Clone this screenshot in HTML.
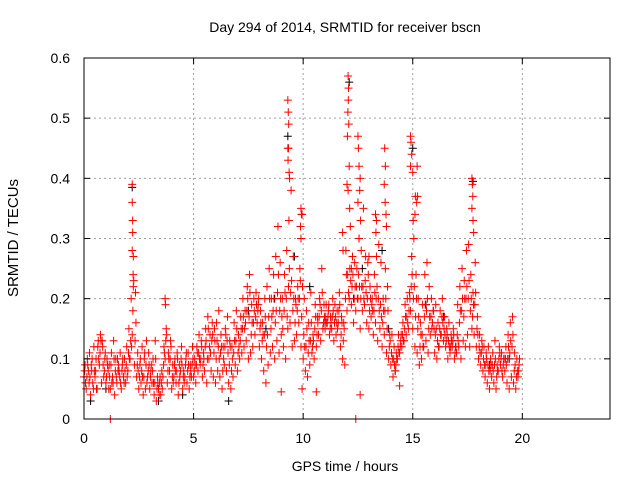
<!DOCTYPE html>
<html><head><meta charset="utf-8"><style>
body{margin:0;background:#fff;}
svg{display:block;font-family:"Liberation Sans",sans-serif;}
</style></head><body>
<svg id="chart" width="640" height="480">
<rect x="0" y="0" width="640" height="480" fill="#fff"/>
<g id="grid"></g>
<g id="pts"></g>
<rect x="84" y="58" width="526" height="361" fill="none" stroke="#000" stroke-width="1"/>
<g id="ticks"></g>
<text x="345" y="32" font-size="14" text-anchor="middle">Day 294 of 2014, SRMTID for receiver bscn</text>
<text x="345" y="471" font-size="14" text-anchor="middle">GPS time / hours</text>
<text x="18" y="238" font-size="15" text-anchor="middle" transform="rotate(-90 18 238)">SRMTID / TECUs</text>
</svg>
<script>
const xTicks=[0,5,10,15,20];
const yTicks=[0,0.1,0.2,0.3,0.4,0.5,0.6];
const yTickLabels=["0","0.1","0.2","0.3","0.4","0.5","0.6"];
const redT=[0.0,0.1,0.2,0.3,0.4,0.5,0.6,0.7,0.8,0.9,1.0,1.1,1.2,1.3,1.4,1.5,1.6,1.7,1.8,1.9,2.0,2.1,2.2,2.3,2.4,2.5,2.6,2.7,2.8,2.9,3.0,3.1,3.2,3.3,3.4,3.5,3.6,3.7,3.8,3.9,4.0,4.1,4.2,4.3,4.4,4.5,4.6,4.7,4.8,4.9,5.0,5.1,5.2,5.3,5.4,5.5,5.6,5.7,5.8,5.9,6.0,6.1,6.2,6.3,6.4,6.5,6.6,6.7,6.8,6.9,7.0,7.1,7.2,7.3,7.4,7.5,7.6,7.7,7.8,7.9,8.0,8.1,8.2,8.3,8.4,8.5,8.6,8.7,8.8,8.9,9.0,9.1,9.2,9.3,9.4,9.5,9.6,9.7,9.8,9.9,10.0,10.1,10.2,10.3,10.4,10.5,10.6,10.7,10.8,10.9,11.0,11.1,11.2,11.3,11.4,11.5,11.6,11.7,11.8,11.9,12.0,12.1,12.2,12.3,12.4,12.5,12.6,12.7,12.8,12.9,13.0,13.1,13.2,13.3,13.4,13.5,13.6,13.7,13.8,13.9,14.0,14.1,14.2,14.3,14.4,14.5,14.6,14.7,14.8,14.9,15.0,15.1,15.2,15.3,15.4,15.5,15.6,15.7,15.8,15.9,16.0,16.1,16.2,16.3,16.4,16.5,16.6,16.7,16.8,16.9,17.0,17.1,17.2,17.3,17.4,17.5,17.6,17.7,17.8,17.9,18.0,18.1,18.2,18.3,18.4,18.5,18.6,18.7,18.8,18.9,19.0,19.1,19.2,19.3,19.4,19.5,19.6,19.7,19.8];
const redA=[.07,.05,.08,.04,.06,.07,.05,.09,.06,.07,.06,.08,.05,.07,.04,.06,.08,.05,.07,.06,.08,.1,.14,.09,.07,.05,.06,.04,.05,.07,.05,.06,.04,.03,.05,.04,.07,.1,.06,.08,.05,.07,.06,.04,.08,.05,.07,.06,.05,.07,.07,.06,.08,.09,.07,.08,.06,.1,.08,.07,.06,.08,.07,.05,.09,.08,.06,.05,.07,.09,.08,.1,.11,.12,.13,.1,.11,.12,.14,.16,.12,.1,.08,.06,.09,.11,.12,.1,.13,.11,.14,.12,.1,.15,.16,.12,.13,.14,.16,.12,.1,.08,.07,.09,.11,.1,.12,.14,.13,.15,.15,.16,.14,.15,.13,.14,.16,.12,.1,.09,.18,.2,.19,.16,.18,.2,.15,.18,.19,.16,.15,.17,.14,.16,.13,.15,.12,.14,.11,.1,.09,.07,.08,.1,.11,.12,.13,.14,.15,.18,.15,.12,.11,.09,.1,.12,.13,.11,.14,.16,.11,.1,.12,.14,.13,.12,.1,.11,.12,.1,.11,.12,.1,.13,.12,.14,.12,.15,.14,.12,.1,.09,.08,.07,.06,.05,.07,.06,.05,.08,.09,.07,.08,.06,.05,.07,.06,.05,.07];
const redB=[.09,.1,.11,.08,.12,.1,.13,.14,.12,.1,.1,.09,.11,.13,.1,.08,.11,.09,.1,.12,.15,.2,.27,.21,.11,.09,.12,.1,.13,.11,.08,.1,.13,.07,.06,.08,.12,.15,.11,.13,.09,.1,.11,.09,.12,.08,.1,.11,.09,.12,.1,.12,.14,.13,.11,.15,.17,.14,.16,.15,.16,.18,.14,.12,.15,.17,.13,.12,.16,.18,.14,.17,.2,.18,.22,.24,.19,.2,.21,.19,.18,.16,.2,.22,.25,.2,.24,.27,.32,.26,.2,.24,.28,.33,.38,.27,.2,.22,.25,.34,.2,.18,.16,.21,.14,.19,.17,.2,.25,.19,.19,.18,.17,.2,.19,.18,.21,.17,.16,.28,.38,.32,.27,.26,.25,.3,.28,.35,.27,.26,.22,.2,.24,.27,.29,.26,.2,.25,.22,.14,.14,.12,.11,.14,.13,.16,.19,.2,.21,.27,.3,.24,.2,.16,.19,.24,.26,.22,.2,.18,.19,.16,.18,.2,.17,.15,.16,.14,.15,.12,.19,.22,.25,.23,.28,.29,.24,.21,.26,.17,.14,.13,.12,.11,.12,.1,.11,.13,.09,.12,.11,.1,.12,.14,.16,.17,.11,.1,.09];
const redC=[.08,.07,.06,.09,.05,.08,.12,.11,.13,.08,.07,.05,.09,.06,.08,.1,.07,.08,.06,.09,.11,.13,.18,.13,.09,.07,.08,.07,.09,.08,.07,.08,.06,.05,.04,.06,.09,.13,.08,.1,.07,.09,.08,.06,.1,.07,.09,.08,.07,.09,.08,.09,.11,.1,.09,.12,.1,.12,.13,.11,.1,.12,.11,.08,.12,.13,.09,.08,.11,.13,.11,.13,.15,.15,.18,.17,.14,.16,.17,.18,.15,.13,.14,.12,.17,.15,.18,.16,.21,.18,.17,.18,.2,.22,.21,.18,.16,.18,.2,.17,.14,.12,.11,.13,.12,.15,.14,.17,.18,.16,.17,.17,.15,.17,.16,.16,.18,.14,.13,.2,.24,.25,.22,.2,.22,.24,.2,.22,.23,.2,.18,.19,.18,.2,.2,.19,.16,.18,.15,.12,.11,.1,.09,.12,.12,.14,.15,.17,.18,.22,.2,.17,.15,.12,.14,.17,.18,.15,.17,.18,.14,.13,.15,.17,.15,.13,.13,.12,.13,.11,.14,.16,.18,.17,.2,.2,.18,.17,.19,.15,.12,.11,.1,.09,.09,.08,.09,.09,.07,.1,.1,.09,.1,.1,.11,.12,.08,.07,.08];
const redD=[.06,.09,.07,.1,.08,.05,.1,.13,.09,.11,.09,.07,.06,.1,.07,.09,.06,.1,.08,.07,.1,.12,.23,.16,.08,.1,.07,.11,.06,.09,.09,.06,.1,.06,.07,.05,.11,.14,.1,.12,.06,.08,.1,.07,.09,.06,.11,.09,.08,.1,.09,.11,.1,.12,.1,.13,.15,.11,.14,.13,.13,.1,.12,.1,.14,.11,.12,.1,.13,.15,.12,.15,.17,.16,.2,.21,.16,.18,.19,.2,.16,.14,.17,.14,.2,.17,.2,.18,.24,.2,.15,.21,.17,.25,.23,.2,.19,.2,.23,.22,.12,.15,.13,.16,.13,.17,.16,.19,.21,.17,.16,.19,.16,.18,.17,.15,.19,.16,.15,.24,.21,.23,.24,.22,.2,.22,.22,.2,.21,.24,.2,.18,.21,.22,.18,.17,.18,.2,.18,.13,.1,.09,.1,.11,.14,.13,.17,.16,.2,.24,.22,.2,.17,.14,.12,.19,.2,.17,.15,.15,.15,.12,.14,.16,.14,.14,.12,.13,.14,.12,.13,.18,.2,.2,.22,.23,.2,.19,.21,.14,.11,.12,.09,.1,.08,.09,.08,.1,.08,.11,.08,.1,.09,.12,.13,.14,.09,.08,.1];
const spikeT=[2.2,2.2,2.22,2.22,2.2,2.24,2.25,3.7,3.72,9.3,9.32,9.34,9.3,9.33,9.31,9.36,9.38,9.9,9.92,9.88,9.9,11.8,11.82,12.05,12.07,12.06,12.04,12.08,12.02,12.1,12.0,12.12,12.5,12.52,12.55,12.6,12.58,12.5,12.62,12.55,13.3,13.35,13.32,13.72,13.75,13.7,13.74,13.78,13.8,14.9,14.92,14.95,14.9,15.0,15.12,15.1,15.02,15.2,15.22,15.18,17.7,17.72,17.74,17.7,17.75,17.78,1.2,12.4,12.6,9.0,10.6,9.95,12.2,14.4,13.0];
const spikeV=[.39,.36,.33,.31,.28,.24,.22,.2,.19,.53,.51,.49,.45,.45,.43,.41,.4,.35,.34,.32,.3,.31,.28,.57,.55,.53,.51,.49,.47,.42,.39,.35,.47,.45,.42,.4,.38,.36,.33,.3,.34,.33,.31,.45,.42,.39,.36,.34,.32,.47,.46,.44,.42,.41,.37,.34,.33,.42,.37,.36,.4,.39,.37,.35,.33,.31,0,0,.04,.045,.045,.05,.25,.055,.27];
const blackT=[2.2,12.1,9.3,15.0,17.75,0.3,1.0,3.4,4.5,6.6,7.5,8.7,9.6,10.3,11.0,12.7,13.6,14.2,15.6,16.4,18.5,19.4,12.3,13.9,8.3];
const blackV=[.385,.56,.47,.45,.395,.03,.05,.03,.04,.03,.18,.2,.27,.22,.16,.25,.28,.08,.19,.17,.09,.1,.2,.15,.15];

const NS='http://www.w3.org/2000/svg';
const X0=84,X1=610,Y0=419,Y1=58;
function sx(v){return X0+(v/24)*(X1-X0);}
function sy(v){return Y0-(v/0.6)*(Y0-Y1);}
const grid=document.getElementById('grid'),ticks=document.getElementById('ticks'),pts=document.getElementById('pts');
function mk(tag,attrs,parent){const e=document.createElementNS(NS,tag);for(const k in attrs)e.setAttribute(k,attrs[k]);parent.appendChild(e);return e;}
xTicks.forEach(v=>{
  const x=sx(v);
  if(v>0){const g=mk('line',{x1:x,x2:x,y1:Y1,y2:Y0,stroke:'#a0a0a0','stroke-dasharray':'2,3','stroke-width':1},grid);
  
  }
  mk('line',{x1:x,x2:x,y1:Y0,y2:Y0-6,stroke:'#000'},ticks);
  mk('line',{x1:x,x2:x,y1:Y1,y2:Y1+6,stroke:'#000'},ticks);
  const t=mk('text',{x:x,y:443,'font-size':14,'text-anchor':'middle'},ticks);
  t.textContent=String(v);
  
  
});
yTicks.forEach((v,i)=>{
  const y=sy(v);
  if(v>0&&v<0.6){const g=mk('line',{x1:X0,x2:X1,y1:y,y2:y,stroke:'#a0a0a0','stroke-dasharray':'2,3','stroke-width':1},grid);
  
  }
  mk('line',{x1:X0,x2:X0+6,y1:y,y2:y,stroke:'#000'},ticks);
  mk('line',{x1:X1,x2:X1-6,y1:y,y2:y,stroke:'#000'},ticks);
  const t=mk('text',{x:70,y:y+5,'font-size':14,'text-anchor':'end'},ticks);
  t.textContent=yTickLabels[i];
  
  
});
function plus(t,v,col,name){
  const x=sx(t),y=sy(v);
  const p=mk('path',{d:`M${x-4},${y}H${x+4}M${x},${y-4}V${y+4}`,stroke:col,'stroke-width':1,fill:'none'},pts);
  
  
}
blackT.forEach((t,i)=>plus(t,blackV[i],'#000','black-point'));
redT.forEach((t,i)=>{plus(t,redA[i],'#f00','red-point');plus(t+0.05,redB[i],'#f00','red-point');plus(t+0.03,redC[i],'#f00','red-point');plus(t+0.07,redD[i],'#f00','red-point');});
spikeT.forEach((t,i)=>plus(t,spikeV[i],'#f00','red-point'));
</script>
</body></html>
